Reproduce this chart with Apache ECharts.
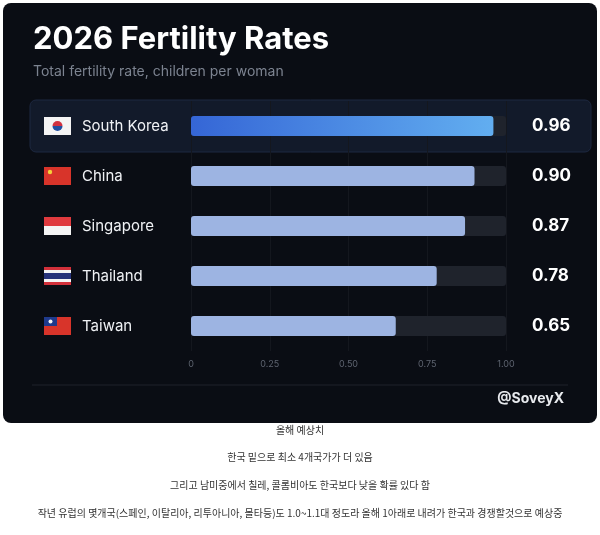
<!DOCTYPE html>
<html>
<head>
<meta charset="utf-8">
<script src="https://cdn.jsdelivr.net/npm/echarts@6/dist/echarts.min.js"></script>
<style>
  html, body { margin: 0; padding: 0; background: #fff; }
  #main { width: 600px; height: 535px; }
</style>
</head>
<body>
<div id="main"></div>
<script>
const countries = ['South Korea', 'China', 'Singapore', 'Thailand', 'Taiwan']
const rates = [0.96, 0.90, 0.87, 0.78, 0.65]
const tickLabels = ['0', '0.25', '0.50', '0.75', '1.00']
const notes = [
  '올해 예상치',
  '한국 밑으로 최소 4개국가가 더 있음',
  '그리고 남미중에서 칠레, 콜롬비아도 한국보다 낮을 확률 있다 함',
  '작년 유럽의 몇개국(스페인, 이탈리아, 리투아니아, 몰타등)도 1.0~1.1대 정도라 올해 1아래로 내려가 한국과 경쟁할것으로 예상중'
]

const chart = echarts.init(document.getElementById('main'))
const font = 'Inter, "Noto Sans", sans-serif'

// small flag drawings next to the country names
const flagX = 44, flagW = 27, flagH = 18
const rowY = [126, 176, 226, 276, 326]
function flag(i) {
  const x = flagX, y = rowY[i] - flagH / 2
  const parts = []
  if (i === 0) {
    parts.push({ type: 'rect', shape: { x, y, width: flagW, height: flagH }, style: { fill: '#f4f4f4' } })
    parts.push({ type: 'sector', shape: { cx: x + 13.5, cy: y + 9, r: 5, startAngle: Math.PI, endAngle: 2 * Math.PI }, style: { fill: '#d03040' } })
    parts.push({ type: 'sector', shape: { cx: x + 13.5, cy: y + 9, r: 5, startAngle: 0, endAngle: Math.PI }, style: { fill: '#1f4ea0' } })
  } else if (i === 1) {
    parts.push({ type: 'rect', shape: { x, y, width: flagW, height: flagH }, style: { fill: '#d8342a' } })
    parts.push({ type: 'circle', shape: { cx: x + 6, cy: y + 5, r: 2.2 }, style: { fill: '#f5d03a' } })
  } else if (i === 2) {
    parts.push({ type: 'rect', shape: { x, y, width: flagW, height: flagH / 2 }, style: { fill: '#e03a3e' } })
    parts.push({ type: 'rect', shape: { x, y: y + flagH / 2, width: flagW, height: flagH / 2 }, style: { fill: '#f4f4f4' } })
  } else if (i === 3) {
    const c = ['#d2303a', '#f4f4f4', '#27337a', '#f4f4f4', '#d2303a']
    const h = [3, 3, 6, 3, 3]
    let yy = y
    c.forEach((col, k) => { parts.push({ type: 'rect', shape: { x, y: yy, width: flagW, height: h[k] }, style: { fill: col } }); yy += h[k] })
  } else {
    parts.push({ type: 'rect', shape: { x, y, width: flagW, height: flagH }, style: { fill: '#d8342a' } })
    parts.push({ type: 'rect', shape: { x, y, width: 13, height: 9 }, style: { fill: '#1f3a8c' } })
    parts.push({ type: 'circle', shape: { cx: x + 6.5, cy: y + 4.5, r: 2 }, style: { fill: '#f4f4f4' } })
  }
  return parts
}

const graphics = [
  { type: 'rect', shape: { x: 3, y: 3, width: 594, height: 420, r: 8 }, style: { fill: '#0a0d14' }, z: -10 },
  { type: 'rect', shape: { x: 30, y: 100, width: 561, height: 52, r: 6 }, style: { fill: '#121a2a', stroke: '#1d2840', lineWidth: 1 }, z: -9 },
  { type: 'line', shape: { x1: 32, y1: 385, x2: 568, y2: 385 }, style: { stroke: '#1e222b', lineWidth: 1 } },
  { type: 'text', left: 33, top: 24, style: { text: '2026 Fertility Rates', fill: '#ffffff', font: 'bold 31px ' + font } },
  { type: 'text', left: 33, top: 65, style: { text: 'Total fertility rate, children per woman', fill: '#7c8390', font: '14px ' + font } },
  { type: 'text', right: 36, top: 392, style: { text: '@SoveyX', fill: '#e8eaee', font: 'bold 14px ' + font } }
]
countries.forEach((c, i) => flag(i).forEach(p => graphics.push(p)))
notes.forEach((t, i) => {
  graphics.push({ type: 'text', x: 300, y: [430, 457, 485, 513][i], style: { text: t, fill: '#333', font: '10px "Noto Sans CJK KR", sans-serif', align: 'center', verticalAlign: 'middle' } })
})

const option = {
  backgroundColor: '#ffffff',
  animation: false,
  grid: { left: 191, right: 94, top: 101, bottom: 184 },
  xAxis: {
    type: 'value', min: 0, max: 1, interval: 0.25,
    axisLine: { show: false }, axisTick: { show: false },
    splitLine: { show: true, lineStyle: { color: '#14171e' } },
    axisLabel: { color: '#5e6470', fontSize: 9, fontFamily: font, margin: 9,
      formatter: v => tickLabels[Math.round(v * 4)] }
  },
  yAxis: {
    type: 'category', data: countries, inverse: true,
    axisLine: { show: false }, axisTick: { show: false },
    axisLabel: { color: '#f0f2f5', fontSize: 15, fontFamily: font, align: 'left', margin: 109 }
  },
  series: [
    {
      type: 'bar', data: countries.map(() => 1), barWidth: 20, barGap: '-100%',
      itemStyle: { color: '#1f232c', borderRadius: 3 }, silent: true,
      label: { show: true, position: 'right', distance: 26, color: '#ffffff', fontSize: 17, fontWeight: 'bold', fontFamily: font,
        formatter: p => rates[p.dataIndex].toFixed(2) }
    },
    {
      type: 'bar', barWidth: 20, z: 3,
      data: rates.map((v, i) => ({
        value: v,
        itemStyle: i === 0
          ? { color: new echarts.graphic.LinearGradient(0, 0, 1, 0, [{ offset: 0, color: '#3566d6' }, { offset: 1, color: '#62aef0' }]) }
          : { color: '#9db4e2' }
      })),
      itemStyle: { borderRadius: 3 }
    }
  ],
  graphic: graphics
}
chart.setOption(option)
</script>
</body>
</html>
